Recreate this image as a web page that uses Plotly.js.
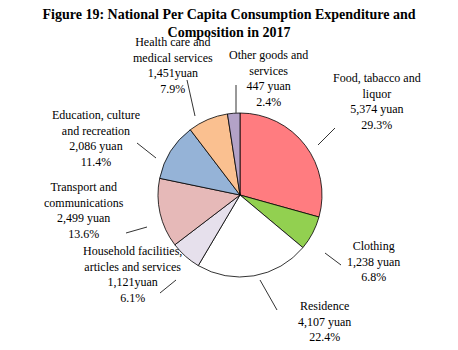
<!DOCTYPE html>
<html>
<head>
<meta charset="utf-8">
<script src="https://cdn.plot.ly/plotly-3.0.1.min.js"></script>
<style>html,body{margin:0;padding:0;background:#fff}#chart{width:458px;height:350px}</style>
</head>
<body>
<div id="chart"></div>
<script>
// ---- data ----
var categories = [
  "Food, tabacco and<br>liquor",
  "Clothing",
  "Residence",
  "Household facilities,<br>articles and services",
  "Transport and<br>communications",
  "Education, culture<br>and recreation",
  "Health care and<br>medical services",
  "Other goods and<br>services"
];
var values = [5374, 1238, 4107, 1121, 2499, 2086, 1451, 447];
var valueLabels = ["5,374 yuan", "1,238 yuan", "4,107 yuan", "1,121yuan", "2,499 yuan", "2,086 yuan", "1,451yuan", "447 yuan"];
var percentLabels = ["29.3%", "6.8%", "22.4%", "6.1%", "13.6%", "11.4%", "7.9%", "2.4%"];
var colors = ["#FF7C80", "#92D050", "#FFFFFF", "#E6E0EC", "#E6B9B8", "#95B3D7", "#FAC090", "#B3A2C7"];

// ---- layout helpers (pixel positions of label blocks & leader lines) ----
var W = 458, H = 350;
var labelPos = [[377, 102], [373, 261], [324, 321], [132, 274], [84, 210], [96, 138], [173, 65], [268, 78]];
var leaderLines = [
  [[335,128],[318,145]],
  [[325,253],[341,265]],
  [[260,280],[277,310]],
  [[160,293],[176,280]],
  [[126,233],[147,227]],
  [[137,143],[156,158]],
  [[187,80],[195,116]],
  [[236,85],[236,113]]
];
function px(x){return x/W;}
function py(y){return 1 - y/H;}

var cx = 240, cy = 195, r = 82;

var trace = {
  type: "pie",
  values: values,
  labels: categories,
  sort: false,
  direction: "clockwise",
  rotation: 0,
  textinfo: "none",
  hoverinfo: "none",
  showlegend: false,
  marker: {colors: colors, line: {color: "#000000", width: 0.8}},
  domain: {x: [px(cx - r), px(cx + r)], y: [py(cy + r), py(cy - r)]}
};

var annotations = categories.map(function(c, i){
  return {
    xref: "paper", yref: "paper",
    x: px(labelPos[i][0]), y: py(labelPos[i][1]),
    xanchor: "center", yanchor: "middle",
    text: c + "<br>" + valueLabels[i] + "<br>" + percentLabels[i],
    showarrow: false,
    align: "center",
    font: {family: "Liberation Serif, Times New Roman, serif", size: 12, color: "#000"}
  };
});

var shapes = leaderLines.map(function(l){
  return {type: "line", xref: "paper", yref: "paper",
    x0: px(l[0][0]), y0: py(l[0][1]), x1: px(l[1][0]), y1: py(l[1][1]),
    line: {color: "#333333", width: 1}};
});

var layout = {
  width: W, height: H,
  margin: {l: 0, r: 0, t: 0, b: 0},
  paper_bgcolor: "#ffffff",
  title: {
    text: "<b>Figure 19: National Per Capita Consumption Expenditure and<br>Composition in 2017</b>",
    x: 0.5, xanchor: "center", xref: "paper",
    y: py(19), yanchor: "middle", yref: "paper",
    font: {family: "Liberation Serif, Times New Roman, serif", size: 14, color: "#000"}
  },
  annotations: annotations,
  shapes: shapes
};

Plotly.newPlot("chart", [trace], layout, {displayModeBar: false, staticPlot: true});
</script>
</body>
</html>
